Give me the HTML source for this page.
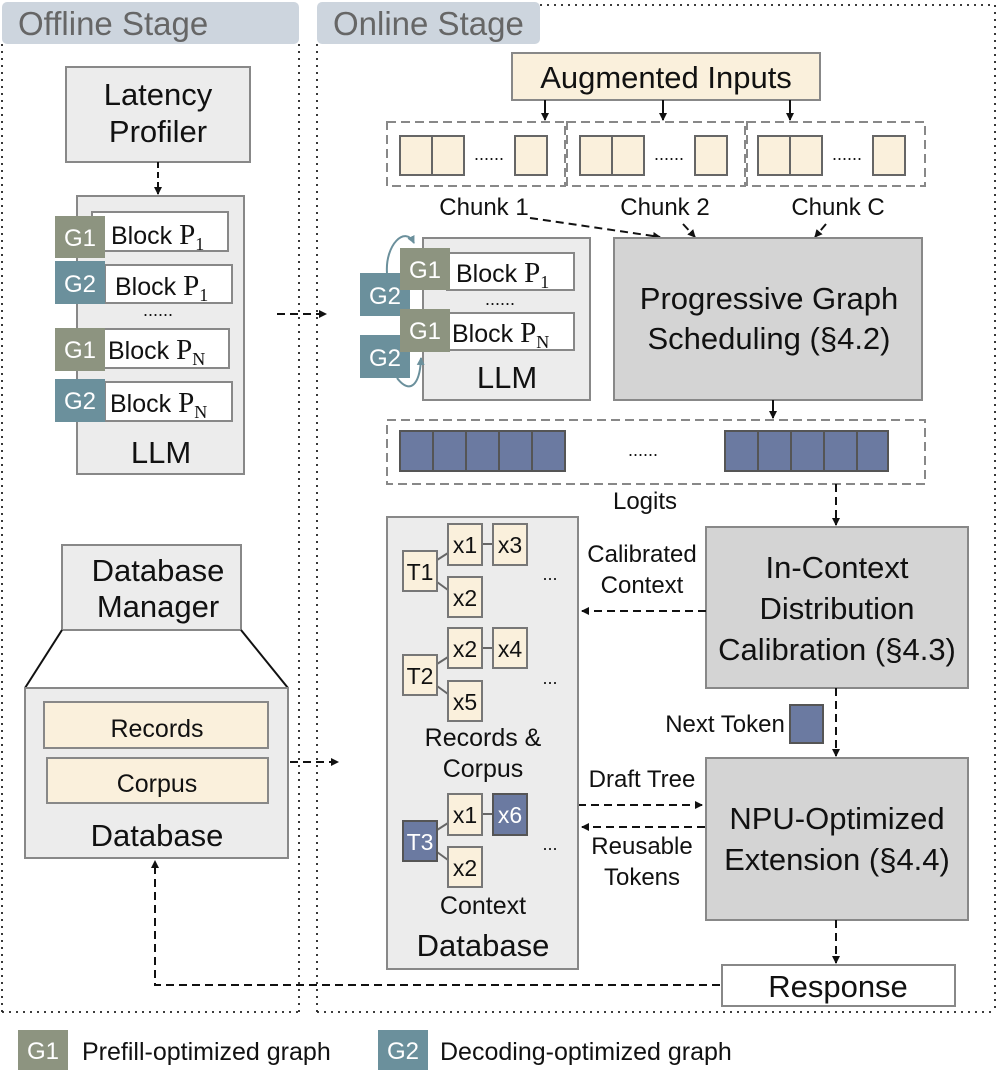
<!DOCTYPE html>
<html><head><meta charset="utf-8"><style>
body{margin:0;background:#fff}
svg{display:block;font-family:"Liberation Sans",Arial,sans-serif}
</style></head><body>
<svg width="997" height="1074" viewBox="0 0 997 1074" xmlns="http://www.w3.org/2000/svg">
<defs>
<marker id="a" markerWidth="8" markerHeight="8" refX="7" refY="4" orient="auto" markerUnits="userSpaceOnUse"><path d="M0,0 L8,4 L0,8 z" fill="#111"/></marker>
<marker id="b" markerWidth="8" markerHeight="8" refX="7" refY="4" orient="auto" markerUnits="userSpaceOnUse"><path d="M0,0 L8,4 L0,8 z" fill="#6b909c"/></marker>
</defs>
<g fill="none" stroke="#222" stroke-width="1.8" stroke-dasharray="2,5">
<line x1="2" y1="44" x2="2" y2="1012"/><line x1="299" y1="44" x2="299" y2="1012"/><line x1="2" y1="1012" x2="299" y2="1012"/>
<line x1="317" y1="44" x2="317" y2="1012"/><line x1="995" y1="5" x2="995" y2="1012"/><line x1="317" y1="1012" x2="995" y2="1012"/><line x1="540" y1="5" x2="995" y2="5"/>
</g>
<rect x="2" y="2" width="297" height="42" rx="5" fill="#cdd5de"/>
<rect x="317" y="2" width="223" height="42" rx="5" fill="#cdd5de"/>
<text x="18" y="35" font-size="33" fill="#666">Offline Stage</text>
<text x="333" y="35" font-size="33" fill="#666">Online Stage</text>

<g font-size="31" fill="#111" text-anchor="middle">
<rect x="66" y="67" width="184" height="95" fill="#ececec" stroke="#888" stroke-width="2"/>
<text x="158" y="105">Latency</text><text x="158" y="142">Profiler</text>
<line x1="158" y1="162" x2="158" y2="194" stroke="#111" stroke-width="2" stroke-dasharray="6,4" marker-end="url(#a)"/>
<rect x="77" y="196" width="167" height="278" fill="#ececec" stroke="#888" stroke-width="2"/>
<g stroke="#888" stroke-width="2" fill="#fff">
<rect x="92" y="212" width="136" height="39"/><rect x="105" y="265" width="127" height="38"/>
<rect x="92" y="329" width="137" height="39"/><rect x="105" y="382" width="127" height="39"/>
</g>
<rect x="55" y="216" width="50" height="42" fill="#8d9480"/><rect x="55" y="261" width="50" height="43" fill="#6b909c"/>
<rect x="55" y="328" width="50" height="43" fill="#8d9480"/><rect x="55" y="379" width="50" height="43" fill="#6b909c"/>
<g fill="#fff" font-size="24"><text x="80" y="246">G1</text><text x="80" y="292">G2</text><text x="80" y="358">G1</text><text x="80" y="409">G2</text></g>
<g text-anchor="start" font-size="25">
<text x="111" y="244">Block <tspan font-family="Liberation Serif" font-size="29">P</tspan><tspan font-family="Liberation Serif" font-size="18" dy="6">1</tspan></text>
<text x="115" y="295">Block <tspan font-family="Liberation Serif" font-size="29">P</tspan><tspan font-family="Liberation Serif" font-size="18" dy="6">1</tspan></text>
<text x="108" y="359">Block <tspan font-family="Liberation Serif" font-size="29">P</tspan><tspan font-family="Liberation Serif" font-size="18" dy="6">N</tspan></text>
<text x="110" y="412">Block <tspan font-family="Liberation Serif" font-size="29">P</tspan><tspan font-family="Liberation Serif" font-size="18" dy="6">N</tspan></text>
</g>
<text x="158" y="316" font-size="18">......</text>
<text x="161" y="463">LLM</text>
<line x1="277" y1="314" x2="326" y2="314" stroke="#111" stroke-width="2" stroke-dasharray="8,5" marker-end="url(#a)"/>

<rect x="62" y="545" width="179" height="85" fill="#ececec" stroke="#888" stroke-width="2"/>
<text x="158" y="581">Database</text><text x="158" y="617">Manager</text>
<line x1="62" y1="630" x2="25" y2="688" stroke="#111" stroke-width="2"/><line x1="241" y1="630" x2="288" y2="688" stroke="#111" stroke-width="2"/>
<rect x="25" y="688" width="263" height="170" fill="#ececec" stroke="#888" stroke-width="2"/>
<rect x="44" y="702" width="224" height="46" fill="#faf0dc" stroke="#888" stroke-width="2"/>
<rect x="47" y="758" width="221" height="45" fill="#faf0dc" stroke="#888" stroke-width="2"/>
<text x="157" y="737" font-size="25">Records</text><text x="157" y="792" font-size="25">Corpus</text>
<text x="157" y="846">Database</text>
<line x1="290" y1="762" x2="338" y2="762" stroke="#111" stroke-width="2" stroke-dasharray="8,5" marker-end="url(#a)"/>
<polyline points="720,985 155,985 155,861" fill="none" stroke="#111" stroke-width="2" stroke-dasharray="8,5" marker-end="url(#a)"/>

<rect x="512" y="53" width="308" height="47" fill="#faf0dc" stroke="#888" stroke-width="2"/>
<text x="666" y="88">Augmented Inputs</text>
<g stroke="#111" stroke-width="2" marker-end="url(#a)"><line x1="545" y1="100" x2="545" y2="120"/><line x1="663" y1="100" x2="663" y2="120"/><line x1="790" y1="100" x2="790" y2="120"/></g>
<g fill="none" stroke="#888" stroke-width="2" stroke-dasharray="9,5">
<rect x="387" y="122" width="178" height="64"/><rect x="567" y="122" width="178" height="64"/><rect x="747" y="122" width="178" height="64"/>
<rect x="387" y="420" width="538" height="64"/>
</g>
<g fill="#faf0dc" stroke="#666" stroke-width="2">
<rect x="400" y="136" width="32" height="39"/><rect x="432" y="136" width="32" height="39"/><rect x="515" y="136" width="32" height="39"/>
<rect x="580" y="136" width="32" height="39"/><rect x="612" y="136" width="32" height="39"/><rect x="695" y="136" width="32" height="39"/>
<rect x="758" y="136" width="32" height="39"/><rect x="790" y="136" width="32" height="39"/><rect x="873" y="136" width="32" height="39"/>
</g>
<g font-size="18"><text x="489" y="160">......</text><text x="669" y="160">......</text><text x="847" y="160">......</text></g>
<g font-size="24"><text x="484" y="215">Chunk 1</text><text x="665" y="215">Chunk 2</text><text x="838" y="215">Chunk C</text></g>
<g stroke="#111" stroke-width="2" stroke-dasharray="8,5" marker-end="url(#a)" fill="none">
<line x1="530" y1="218" x2="660" y2="237"/><line x1="683" y1="224" x2="695" y2="237"/><line x1="826" y1="224" x2="815" y2="237"/>
</g>
<rect x="614" y="238" width="308" height="162" fill="#d4d4d4" stroke="#888" stroke-width="2"/>
<text x="769" y="309">Progressive Graph</text><text x="769" y="349">Scheduling (§4.2)</text>

<rect x="423" y="238" width="167" height="162" fill="#ececec" stroke="#888" stroke-width="2"/>
<g stroke="#888" stroke-width="2" fill="#fff"><rect x="447" y="253" width="127" height="37"/><rect x="447" y="313" width="127" height="37"/></g>
<rect x="360" y="273" width="50" height="43" fill="#6b909c"/><rect x="360" y="335" width="50" height="43" fill="#6b909c"/>
<rect x="400" y="248" width="50" height="42" fill="#8d9480"/><rect x="400" y="309" width="50" height="43" fill="#8d9480"/>
<g fill="#fff" font-size="24"><text x="385" y="304">G2</text><text x="385" y="366">G2</text><text x="425" y="278">G1</text><text x="425" y="339">G1</text></g>
<path d="M387,273 C385,245 405,225 414,243" fill="none" stroke="#6b909c" stroke-width="2" marker-end="url(#b)"/>
<path d="M397,378 C410,395 420,385 421,358" fill="none" stroke="#6b909c" stroke-width="2" marker-end="url(#b)"/>
<g text-anchor="start" font-size="25">
<text x="456" y="282">Block <tspan font-family="Liberation Serif" font-size="29">P</tspan><tspan font-family="Liberation Serif" font-size="18" dy="6">1</tspan></text>
<text x="452" y="342">Block <tspan font-family="Liberation Serif" font-size="29">P</tspan><tspan font-family="Liberation Serif" font-size="18" dy="6">N</tspan></text>
</g>
<text x="500" y="305" font-size="18">......</text>
<text x="507" y="388">LLM</text>
<line x1="773" y1="400" x2="773" y2="418" stroke="#111" stroke-width="2" marker-end="url(#a)"/>
<g fill="#6b7aa1" stroke="#555" stroke-width="2">
<rect x="400" y="431" width="33" height="40"/><rect x="433" y="431" width="33" height="40"/><rect x="466" y="431" width="33" height="40"/><rect x="499" y="431" width="33" height="40"/><rect x="532" y="431" width="33" height="40"/>
<rect x="725" y="431" width="33" height="40"/><rect x="758" y="431" width="33" height="40"/><rect x="791" y="431" width="33" height="40"/><rect x="824" y="431" width="33" height="40"/><rect x="857" y="431" width="31" height="40"/>
</g>
<text x="643" y="456" font-size="18">......</text>
<text x="645" y="509" font-size="24">Logits</text>
<line x1="836" y1="484" x2="836" y2="525" stroke="#111" stroke-width="2" stroke-dasharray="8,5" marker-end="url(#a)"/>

<rect x="706" y="527" width="262" height="161" fill="#d4d4d4" stroke="#888" stroke-width="2"/>
<text x="837" y="578">In-Context</text><text x="837" y="619">Distribution</text><text x="837" y="660">Calibration (§4.3)</text>
<g font-size="24"><text x="642" y="562">Calibrated</text><text x="642" y="593">Context</text></g>
<line x1="706" y1="611" x2="582" y2="611" stroke="#111" stroke-width="2" stroke-dasharray="8,5" marker-end="url(#a)"/>
<text x="725" y="732" font-size="24">Next Token</text>
<rect x="790" y="705" width="33" height="38" fill="#6b7aa1" stroke="#555" stroke-width="2"/>
<line x1="836" y1="688" x2="836" y2="756" stroke="#111" stroke-width="2" stroke-dasharray="8,5" marker-end="url(#a)"/>
<rect x="706" y="758" width="262" height="162" fill="#d4d4d4" stroke="#888" stroke-width="2"/>
<text x="837" y="829">NPU-Optimized</text><text x="837" y="870">Extension (§4.4)</text>
<text x="642" y="787" font-size="24">Draft Tree</text>
<line x1="578" y1="805" x2="702" y2="805" stroke="#111" stroke-width="2" stroke-dasharray="8,5" marker-end="url(#a)"/>
<line x1="705" y1="827" x2="582" y2="827" stroke="#111" stroke-width="2" stroke-dasharray="8,5" marker-end="url(#a)"/>
<g font-size="24"><text x="642" y="854">Reusable</text><text x="642" y="885">Tokens</text></g>
<line x1="836" y1="920" x2="836" y2="963" stroke="#111" stroke-width="2" stroke-dasharray="8,5" marker-end="url(#a)"/>
<rect x="722" y="965" width="233" height="41" fill="#fff" stroke="#888" stroke-width="2"/>
<text x="838" y="997">Response</text>

<rect x="387" y="517" width="191" height="452" fill="#ececec" stroke="#888" stroke-width="2"/>
<g stroke="#666" stroke-width="2">
<line x1="437" y1="560" x2="448" y2="553"/><line x1="437" y1="582" x2="448" y2="590"/><line x1="482" y1="544" x2="493" y2="544"/>
<line x1="437" y1="664" x2="448" y2="657"/><line x1="437" y1="686" x2="448" y2="694"/><line x1="482" y1="648" x2="493" y2="648"/>
<line x1="437" y1="830" x2="448" y2="823"/><line x1="437" y1="852" x2="448" y2="860"/><line x1="482" y1="814" x2="493" y2="814"/>
</g>
<g fill="#faf0dc" stroke="#777" stroke-width="2">
<rect x="403" y="551" width="34" height="40"/><rect x="448" y="524" width="34" height="41"/><rect x="493" y="524" width="34" height="41"/><rect x="448" y="577" width="34" height="40"/>
<rect x="403" y="655" width="34" height="40"/><rect x="448" y="628" width="34" height="40"/><rect x="493" y="628" width="34" height="40"/><rect x="448" y="681" width="34" height="40"/>
<rect x="448" y="794" width="34" height="41"/><rect x="448" y="847" width="34" height="40"/>
</g>
<g fill="#6b7aa1" stroke="#555" stroke-width="2"><rect x="403" y="821" width="34" height="40"/><rect x="493" y="794" width="34" height="41"/></g>
<g font-size="23">
<text x="420" y="580">T1</text><text x="465" y="553">x1</text><text x="510" y="553">x3</text><text x="465" y="606">x2</text>
<text x="420" y="684">T2</text><text x="465" y="657">x2</text><text x="510" y="657">x4</text><text x="465" y="710">x5</text>
<text x="420" y="850" fill="#fff">T3</text><text x="465" y="823">x1</text><text x="510" y="823" fill="#fff">x6</text><text x="465" y="876">x2</text>
<text x="550" y="580" font-size="18">...</text><text x="550" y="684" font-size="18">...</text><text x="550" y="850" font-size="18">...</text>
</g>
<g font-size="25"><text x="483" y="746">Records &amp;</text><text x="483" y="777">Corpus</text><text x="483" y="914">Context</text></g>
<text x="483" y="956">Database</text>

<rect x="18" y="1030" width="50" height="40" fill="#8d9480"/><rect x="378" y="1030" width="50" height="40" fill="#6b909c"/>
<g fill="#fff" font-size="24"><text x="43" y="1059">G1</text><text x="403" y="1059">G2</text></g>
<g font-size="25" text-anchor="start"><text x="82" y="1060">Prefill-optimized graph</text><text x="440" y="1060">Decoding-optimized graph</text></g>
</g>
</svg>
</body></html>
